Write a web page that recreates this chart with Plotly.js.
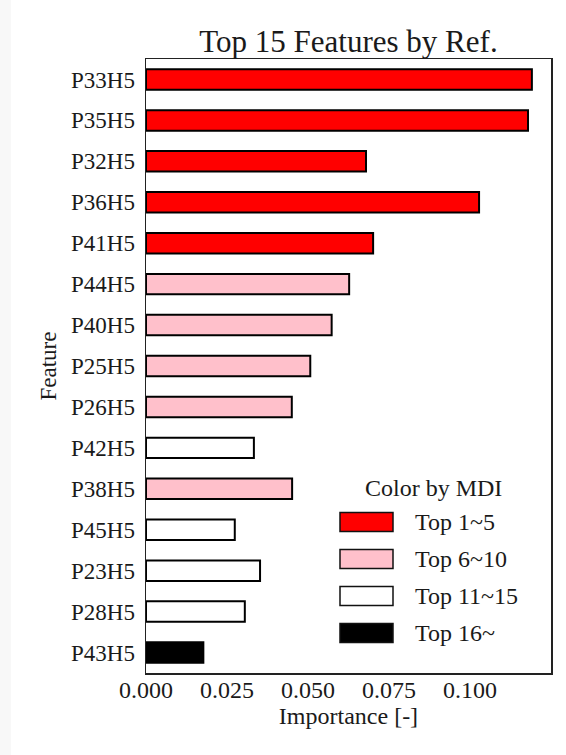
<!DOCTYPE html>
<html>
<head>
<meta charset="utf-8">
<script src="https://cdn.plot.ly/plotly-3.0.1.min.js"></script>
<style>html,body{margin:0;padding:0;background:#fff;}#chart{width:566px;height:755px;}</style>
</head>
<body>
<div id="chart"></div>
<script>
const features = ['P33H5','P35H5','P32H5','P36H5','P41H5','P44H5','P40H5','P25H5','P26H5','P42H5','P38H5','P45H5','P23H5','P28H5','P43H5'];
const importance = [0.1191,0.1179,0.0679,0.1028,0.0701,0.0627,0.0573,0.0507,0.0450,0.0333,0.0451,0.0274,0.0352,0.0305,0.0177];
const mdiGroup = [0,0,0,0,0,1,1,1,1,2,1,2,2,2,3];
const groupNames = ['Top 1~5','Top 6~10','Top 11~15','Top 16~'];
const groupColors = ['#ff0000','#ffc0cb','#ffffff','#000000'];
const xTickVals = [0,0.025,0.05,0.075,0.1];
const xTickText = ['0.000','0.025','0.050','0.075','0.100'];

const FONT = 'Liberation Serif, Times New Roman, serif';
const TXT = '#1a1a1a';

const trace = {
  type: 'bar',
  orientation: 'h',
  x: importance,
  y: features,
  width: 0.5,
  marker: {color: mdiGroup.map(g => groupColors[g]), line: {color: '#000', width: 2}},
  showlegend: false,
  hoverinfo: 'x+y'
};

// plot-area pixel geometry helpers for the hand-built legend
const W = 405, H = 614;
const px = v => (v - 146) / W;
const py = v => (673 - v) / H;

const shapes = [{
  type: 'rect', xref: 'paper', yref: 'paper', layer: 'below',
  x0: px(0), x1: px(11), y0: py(755), y1: py(0),
  fillcolor: '#f8f8f8', line: {width: 0}
}];
const annotations = [{
  xref: 'paper', yref: 'paper', x: px(433), y: py(488),
  text: 'Color by MDI', showarrow: false, xanchor: 'center', yanchor: 'middle',
  font: {family: FONT, size: 24, color: TXT}
}];
groupNames.forEach((name, i) => {
  const cy = 522 + i * 37;
  shapes.push({
    type: 'rect', xref: 'paper', yref: 'paper',
    x0: px(340), x1: px(393), y0: py(cy + 9.5), y1: py(cy - 9.5),
    fillcolor: groupColors[i], line: {color: '#111', width: 1.5}
  });
  annotations.push({
    xref: 'paper', yref: 'paper', x: px(413), y: py(cy),
    text: name, showarrow: false, xanchor: 'left', yanchor: 'middle',
    font: {family: FONT, size: 24, color: TXT}
  });
});

const layout = {
  width: 566, height: 755,
  margin: {l: 146, r: 15, t: 59, b: 82, pad: 0},
  paper_bgcolor: '#fff', plot_bgcolor: '#fff',
  font: {family: FONT, color: TXT, size: 23},
  title: {text: 'Top 15 Features by Ref.', font: {family: FONT, size: 31, color: TXT},
          x: 0.6157, xanchor: 'center', xref: 'container', y: 1 - 41/755, yanchor: 'middle', yref: 'container'},
  xaxis: {
    range: [0, 0.125], tickvals: xTickVals, ticktext: xTickText,
    showgrid: false, zeroline: false, showline: true, linecolor: '#222', linewidth: 1.5, mirror: true,
    ticks: '', ticklabelstandoff: -5,
    tickfont: {family: FONT, size: 24, color: TXT},
    title: {text: 'Importance [-]', font: {family: FONT, size: 24, color: TXT}, standoff: 5}
  },
  yaxis: {
    type: 'category', categoryorder: 'array', categoryarray: features,
    range: [14.5, -0.5],
    showgrid: false, zeroline: false, showline: true, linecolor: '#222', linewidth: 1.5, mirror: true,
    ticks: '', ticklabelstandoff: 5,
    tickfont: {family: FONT, size: 23, color: TXT},
    title: {text: 'Feature', font: {family: FONT, size: 23, color: TXT}, standoff: 8}
  },
  bargap: 0.5,
  shapes: shapes,
  annotations: annotations
};

Plotly.newPlot('chart', [trace], layout, {displayModeBar: false, staticPlot: true});
</script>
</body>
</html>
